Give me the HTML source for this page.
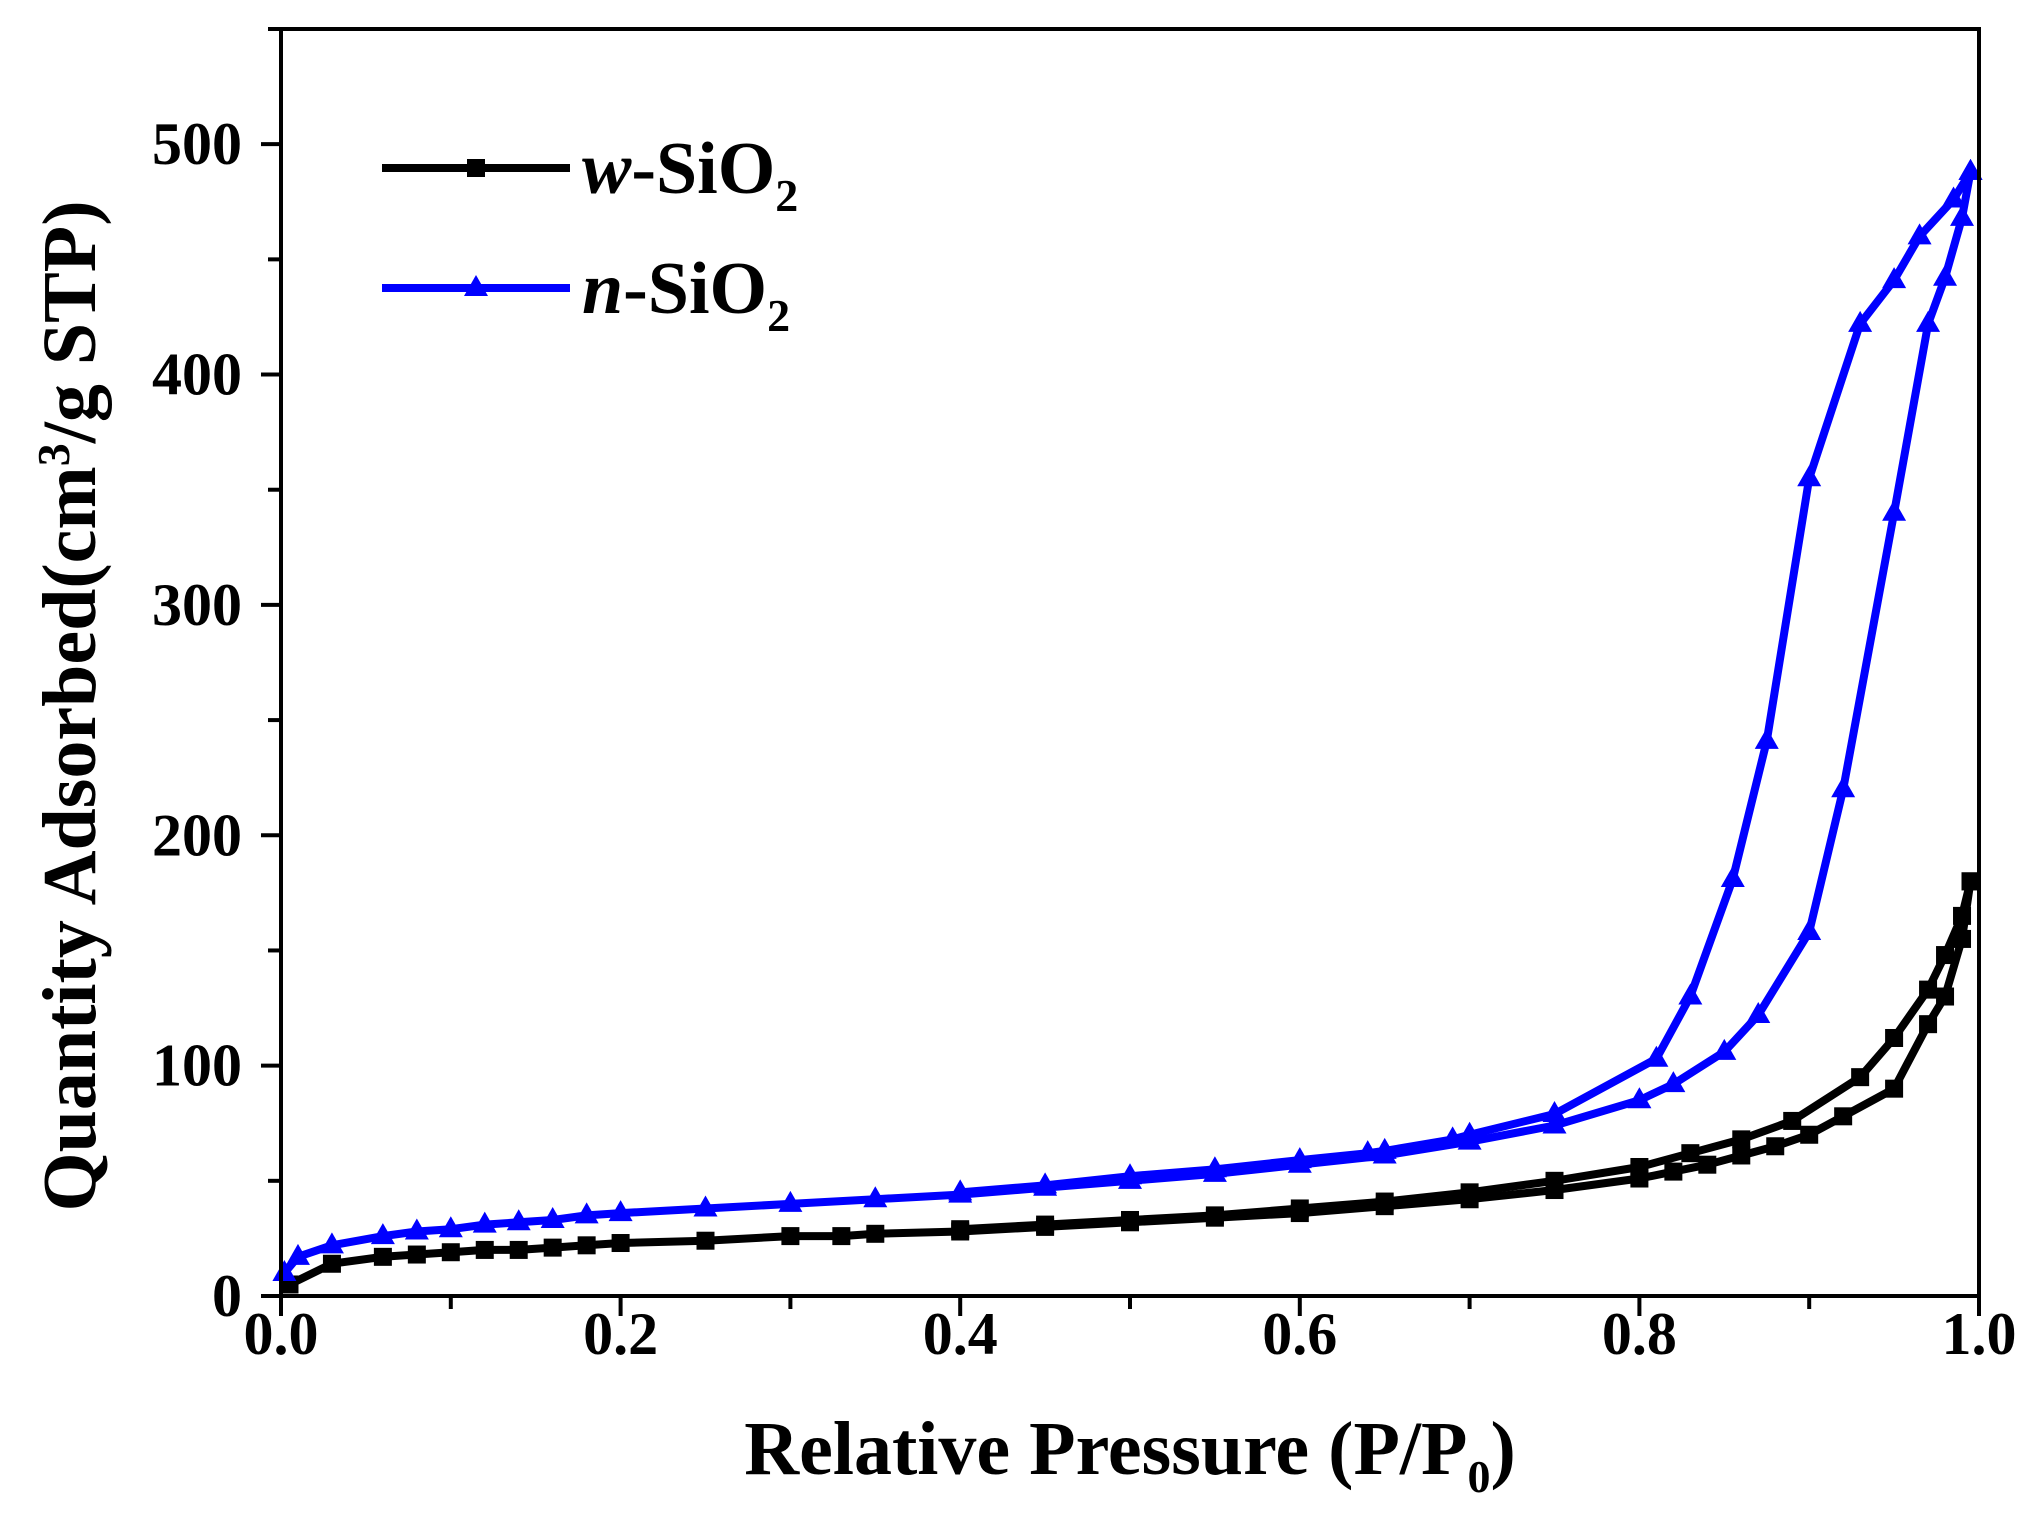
<!DOCTYPE html>
<html><head><meta charset="utf-8"><style>
html,body{margin:0;padding:0;background:#fff;}
svg{display:block;font-family:"Liberation Serif",serif;font-weight:bold;}
</style></head><body>
<svg id="chart" width="2032" height="1522" viewBox="0 0 2032 1522" xmlns="http://www.w3.org/2000/svg">
<g id="plot"></g>
</svg>
<script>
const xTicks=[0,0.2,0.4,0.6,0.8,1.0];
const xTickLabels=["0.0","0.2","0.4","0.6","0.8","1.0"];
const yTicks=[0,100,200,300,400,500];
const yTickLabels=["0","100","200","300","400","500"];
const wAdsX=[0.005,0.03,0.06,0.08,0.1,0.12,0.14,0.16,0.18,0.2,0.25,0.3,0.33,0.35,0.4,0.45,0.5,0.55,0.6,0.65,0.7,0.75,0.8,0.82,0.84,0.86,0.88,0.9,0.92,0.95,0.97,0.98,0.99,0.995];
const wAdsY=[5,14,17,18,19,20,20,21,22,23,24,26,26,27,28,30,32,34,36,39,42,46,51,54,57,61,65,70,78,90,118,130,155,180];
const wDesX=[0.995,0.99,0.98,0.97,0.95,0.93,0.89,0.86,0.83,0.8,0.75,0.7,0.65,0.6,0.55,0.5,0.45,0.4];
const wDesY=[180,165,148,133,112,95,76,68,62,56,50,45,41,38,35,33,31,29];
const nAdsX=[0.002,0.01,0.03,0.06,0.08,0.1,0.12,0.14,0.16,0.18,0.2,0.25,0.3,0.35,0.4,0.45,0.5,0.55,0.6,0.65,0.7,0.75,0.8,0.82,0.85,0.87,0.9,0.92,0.95,0.97,0.98,0.99,0.995];
const nAdsY=[10,17,22,26,28,29,31,32,33,35,36,38,40,42,44,47,50,53,57,61,67,74,85,92,106,122,158,220,340,422,442,468,488];
const nDesX=[0.995,0.985,0.965,0.95,0.93,0.9,0.875,0.855,0.83,0.81,0.75,0.7,0.69,0.65,0.64,0.6,0.55,0.5,0.45,0.4];
const nDesY=[488,476,460,441,422,355,241,181,130,103,79,70,68,63,62,59,55,52,48,45];

const L=281,R=1979,T=29,B=1296,YMAX=550;
const sx=v=>L+v*(R-L);
const sy=v=>B-v/YMAX*(B-T);
const NS="http://www.w3.org/2000/svg";
const g=document.getElementById('plot');
function mk(tag,attrs,parent){const e=document.createElementNS(NS,tag);for(const k in attrs)e.setAttribute(k,attrs[k]);(parent||g).appendChild(e);return e;}

function series(xs,ys,color,marker,name){
  const grp=mk('g',{});
  
  
  const pts=xs.map((x,i)=>sx(x).toFixed(1)+','+sy(ys[i]).toFixed(1)).join(' ');
  const pl=mk('polyline',{points:pts,fill:'none',stroke:color,'stroke-width':8,'stroke-linejoin':'round'},grp);
  
  
  xs.forEach((x,i)=>{
    const cx=sx(x),cy=sy(ys[i]);let m;
    if(marker==='square'){m=mk('rect',{x:cx-9,y:cy-9,width:18,height:18,fill:color},grp);}
    else{m=mk('polygon',{points:`${cx},${cy-13} ${cx-12},${cy+8} ${cx+12},${cy+8}`,fill:color},grp);}
    
    
  });
}
series(wAdsX,wAdsY,'#000','square','w-sio2-adsorption');
series(wDesX,wDesY,'#000','square','w-sio2-desorption');
series(nAdsX,nAdsY,'#0000ff','tri','n-sio2-adsorption');
series(nDesX,nDesY,'#0000ff','tri','n-sio2-desorption');

const fr=mk('rect',{x:L,y:T,width:R-L,height:B-T,fill:'none',stroke:'#000','stroke-width':4});


for(let i=0;i<=10;i++){const v=i/10;const len=i%2===0?20:13;
  const t=mk('line',{x1:sx(v),x2:sx(v),y1:B,y2:B+len,stroke:'#000','stroke-width':4});
  
  }
xTicks.forEach((v,i)=>{const t=mk('text',{x:sx(v),y:1354,'text-anchor':'middle','font-size':60});t.textContent=xTickLabels[i];
  
  });
for(let v=0;v<=550;v+=50){const len=v%100===0?20:13;
  const t=mk('line',{x1:L-len,x2:L,y1:sy(v),y2:sy(v),stroke:'#000','stroke-width':4});
  
  }
yTicks.forEach((v,i)=>{const t=mk('text',{x:242,y:sy(v)+20,'text-anchor':'end','font-size':60});t.textContent=yTickLabels[i];
  
  });
</script>
<svg style="position:absolute;left:0;top:0" width="2032" height="1522">
<text x="1130" y="1474" text-anchor="middle" font-size="76" font-family="Liberation Serif,serif" font-weight="bold">Relative Pressure (P/P<tspan font-size="46" dy="18">0</tspan><tspan dy="-18">)</tspan></text>
<text transform="translate(95,706) rotate(-90)" text-anchor="middle" font-size="76" font-family="Liberation Serif,serif" font-weight="bold">Quantity Adsorbed(cm<tspan font-size="46" dy="-26">3</tspan><tspan dy="26">/g STP)</tspan></text>
<g font-family="Liberation Serif,serif" font-weight="bold" font-size="74">
<line x1="382" x2="570" y1="168" y2="168" stroke="#000" stroke-width="8"/>
<rect x="467" y="159" width="18" height="18" fill="#000"/>
<text x="582" y="193"><tspan font-style="italic">w</tspan>-SiO<tspan font-size="46" dy="18">2</tspan></text>
<line x1="382" x2="570" y1="288" y2="288" stroke="#0000ff" stroke-width="8"/>
<polygon points="476,275 464,296 488,296" fill="#0000ff"/>
<text x="582" y="313"><tspan font-style="italic">n</tspan>-SiO<tspan font-size="46" dy="18">2</tspan></text>
</g>
</svg>
</body></html>
